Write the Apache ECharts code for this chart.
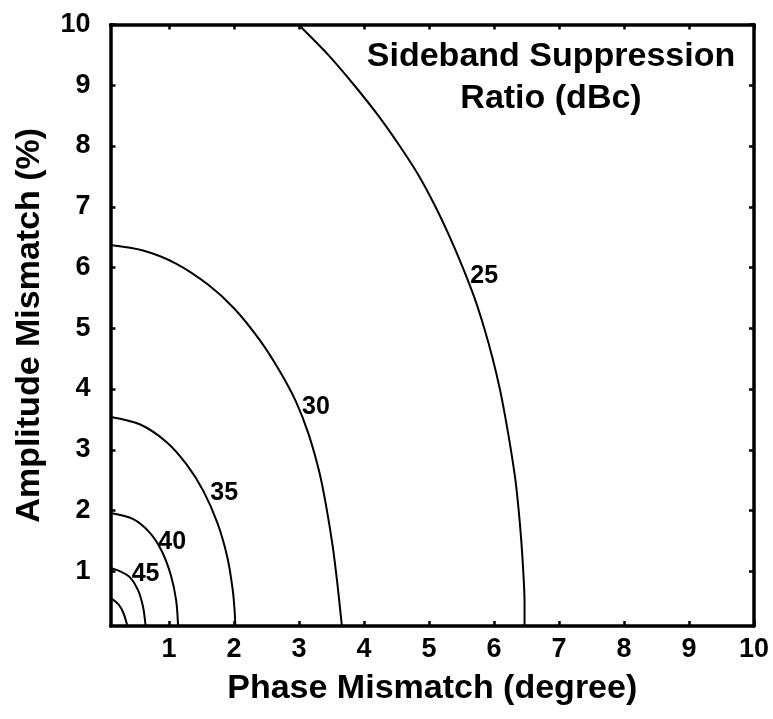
<!DOCTYPE html>
<html>
<head>
<meta charset="utf-8">
<title>Sideband Suppression Ratio</title>
<script src="https://cdn.jsdelivr.net/npm/echarts@6/dist/echarts.min.js"></script>
<style>
  html, body { margin: 0; padding: 0; background: #ffffff; }
  #chart { width: 773px; height: 719px; }
</style>
</head>
<body>
<div id="chart"></div>
<script>
// Contour levels of sideband suppression (dBc)
const levels = [25, 30, 35, 40, 45, 50];

// Contour traces: [phase mismatch (deg), amplitude mismatch (%)]
const contour25 = [[2.99, 10.0], [3.45, 9.5], [3.85, 9.0], [4.22, 8.5], [4.55, 8.0], [4.85, 7.5], [5.10, 7.0], [5.32, 6.5], [5.52, 6.0], [5.70, 5.5], [5.85, 5.0], [5.98, 4.5], [6.09, 4.0], [6.18, 3.5], [6.26, 3.0], [6.33, 2.5], [6.38, 2.0], [6.42, 1.5], [6.45, 1.0], [6.47, 0.5], [6.47, 0.1]];
const contour30 = [[0.10, 6.37], [0.60, 6.28], [1.10, 6.07], [1.60, 5.72], [2.00, 5.33], [2.40, 4.80], [2.70, 4.30], [2.95, 3.80], [3.15, 3.25], [3.32, 2.60], [3.43, 2.00], [3.52, 1.40], [3.59, 0.80], [3.64, 0.30], [3.66, 0.10]];
const contour35 = [[0.10, 3.54], [0.55, 3.42], [0.96, 3.13], [1.27, 2.76], [1.53, 2.32], [1.75, 1.78], [1.90, 1.22], [1.98, 0.70], [2.01, 0.35], [2.02, 0.10]];
const contour40 = [[0.10, 1.96], [0.45, 1.86], [0.71, 1.63], [0.89, 1.33], [1.03, 0.93], [1.11, 0.52], [1.14, 0.10]];
const contour45 = [[0.10, 1.05], [0.25, 1.00], [0.40, 0.90], [0.52, 0.70], [0.60, 0.42], [0.64, 0.10]];
const contour50 = [[0.10, 0.56], [0.22, 0.46], [0.30, 0.31], [0.36, 0.10]];

// Where each level value is written next to its curve
const levelLabels = [[5.85, 5.86, 25], [3.26, 3.70, 30], [1.85, 2.29, 35], [1.05, 1.48, 40], [0.64, 0.95, 45]];

// Axis tick positions
const xTicks = [1, 2, 3, 4, 5, 6, 7, 8, 9, 10];
const yTicks = [1, 2, 3, 4, 5, 6, 7, 8, 9, 10];

const FONT = '"Liberation Sans", Arial, Helvetica, sans-serif';
const contours = [contour25, contour30, contour35, contour40, contour45, contour50];

function frameAxis(extra) {
  return Object.assign({
    type: 'value',
    min: 0.1,
    max: 10,
    axisLine: { show: true, onZero: false, lineStyle: { color: '#000', width: 3.5 } },
    axisTick: { show: true, inside: true, length: 5, customValues: xTicks, lineStyle: { color: '#000', width: 2.5 } },
    axisLabel: { show: false },
    splitLine: { show: false }
  }, extra);
}

const chart = echarts.init(document.getElementById('chart'), null, { renderer: 'canvas' });

const series = contours.map((pts, i) => ({
  name: String(levels[i]),
  type: 'line',
  data: pts,
  xAxisIndex: 0,
  yAxisIndex: 0,
  showSymbol: false,
  smooth: 0.3,
  lineStyle: { color: '#000', width: 2 },
  silent: true,
  z: 3
}));

// Level values written beside the curves
series.push({
  type: 'scatter',
  data: levelLabels,
  xAxisIndex: 0,
  yAxisIndex: 0,
  symbolSize: 1,
  itemStyle: { color: 'rgba(0,0,0,0)', opacity: 1 },
  label: {
    show: true,
    position: 'inside',
    formatter: p => String(p.value[2]),
    color: '#000',
    opacity: 1,
    fontFamily: FONT,
    fontWeight: 'bold',
    fontSize: 25
  },
  silent: true,
  z: 5
});

chart.setOption({
  animation: false,
  backgroundColor: '#ffffff',
  grid: { left: 110.5, right: 19, top: 24.5, bottom: 93, containLabel: false },
  xAxis: [
    frameAxis({
      position: 'bottom',
      axisLabel: { show: true, customValues: xTicks, margin: 10, color: '#000', fontFamily: FONT, fontWeight: 'bold', fontSize: 27 },
      name: 'Phase Mismatch (degree)',
      nameLocation: 'middle',
      nameGap: 46,
      nameTextStyle: { color: '#000', fontFamily: FONT, fontWeight: 'bold', fontSize: 34 }
    }),
    frameAxis({ position: 'top' })
  ],
  yAxis: [
    frameAxis({
      position: 'left',
      axisTick: { show: true, inside: true, length: 5, customValues: yTicks, lineStyle: { color: '#000', width: 2.5 } },
      axisLabel: { show: true, customValues: yTicks, margin: 20, color: '#000', fontFamily: FONT, fontWeight: 'bold', fontSize: 27 },
      name: 'Amplitude Mismatch (%)',
      nameLocation: 'middle',
      nameGap: 64,
      nameTextStyle: { color: '#000', fontFamily: FONT, fontWeight: 'bold', fontSize: 34 }
    }),
    frameAxis({
      position: 'right',
      axisTick: { show: true, inside: true, length: 5, customValues: yTicks, lineStyle: { color: '#000', width: 2.5 } }
    })
  ],
  graphic: [{
    type: 'text',
    x: 551,
    y: 36,
    z: 10,
    style: {
      text: 'Sideband Suppression\nRatio (dBc)',
      fill: '#000',
      font: 'bold 34px ' + FONT,
      align: 'center',
      textAlign: 'center',
      verticalAlign: 'top',
      textVerticalAlign: 'top',
      lineHeight: 42
    }
  }],
  series: series
});
</script>
</body>
</html>
